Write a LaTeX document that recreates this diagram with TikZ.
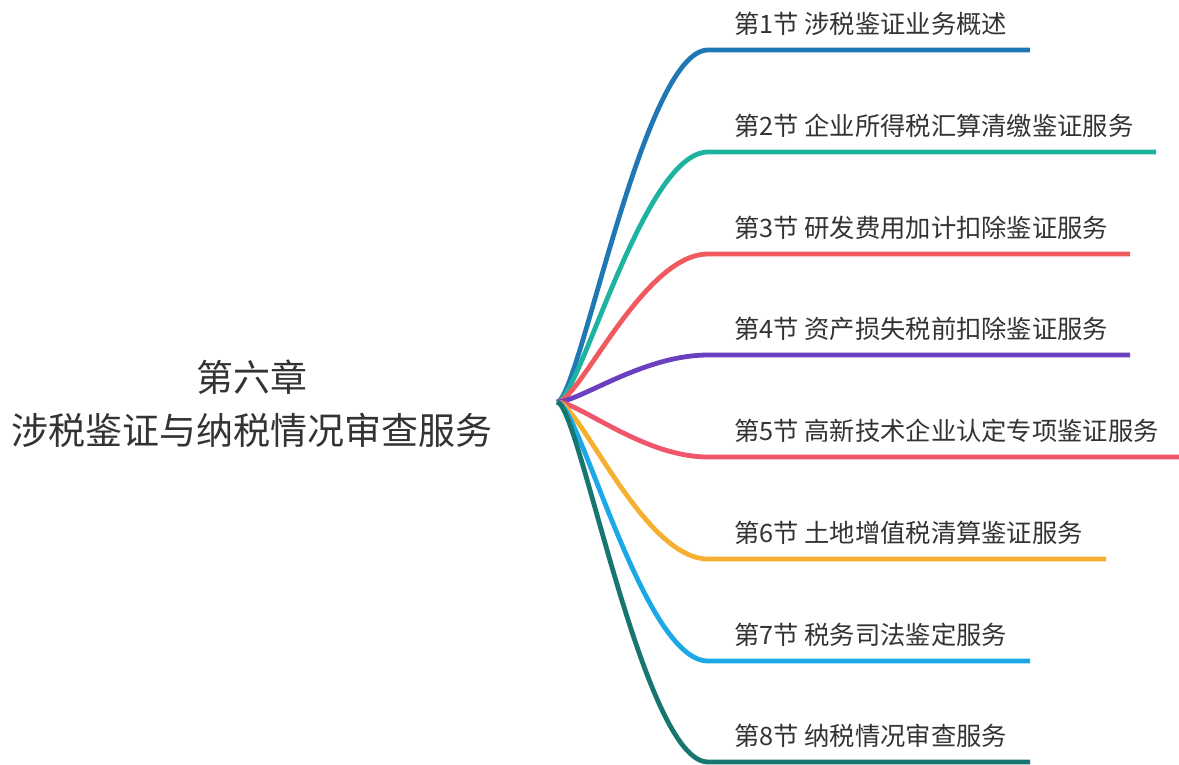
\documentclass[tikz,border=0pt]{standalone}
\usepackage{fontspec}
\setmainfont{Noto Sans CJK SC}
\usetikzlibrary{calc}
\definecolor{c1}{HTML}{1F77B4}
\definecolor{c2}{HTML}{1DB3A0}
\definecolor{c3}{HTML}{F05A5E}
\definecolor{c4}{HTML}{6A40C0}
\definecolor{c5}{HTML}{F0566A}
\definecolor{c6}{HTML}{F6B031}
\definecolor{c7}{HTML}{1AA8E6}
\definecolor{c8}{HTML}{17766F}
\definecolor{txt}{HTML}{333333}
\tikzset{
  branch/.style={line width=4.8pt},
  leaf/.style={anchor=west, inner sep=0pt, text=txt, font=\fontsize{25.3pt}{28pt}\selectfont},
  rootlabel/.style={align=center, inner sep=0pt, text=txt, font=\fontsize{37pt}{53pt}\selectfont}
}
\begin{document}
\begin{tikzpicture}[x=1pt,y=-1pt]
\useasboundingbox (0,0) rectangle (1179,764);
\node[rootlabel] (root) at (252,404) {第六章\\涉税鉴证与纳税情况审查服务};
\coordinate (hub) at (557,402);
\foreach \i/\y/\ex/\col/\t in {
  1/50/1030/c1/{第1节 涉税鉴证业务概述},
  2/152/1156/c2/{第2节 企业所得税汇算清缴鉴证服务},
  3/254/1130/c3/{第3节 研发费用加计扣除鉴证服务},
  4/355/1130/c4/{第4节 资产损失税前扣除鉴证服务},
  5/457/1179/c5/{第5节 高新技术企业认定专项鉴证服务},
  6/559/1106/c6/{第6节 土地增值税清算鉴证服务},
  7/661/1030/c7/{第7节 税务司法鉴定服务},
  8/762/1030/c8/{第8节 纳税情况审查服务}}{
  \coordinate (e\i) at (708,\y);
  \coordinate (f\i) at (\ex,\y);
  \node[leaf] (t\i) at (734,\y-26) {\t};
  \draw[branch,\col] (hub) .. controls ($(hub)+(22,0)$) and ($(e\i)+(-65,0)$) .. (e\i) -- (f\i);
}
\end{tikzpicture}
\end{document}
